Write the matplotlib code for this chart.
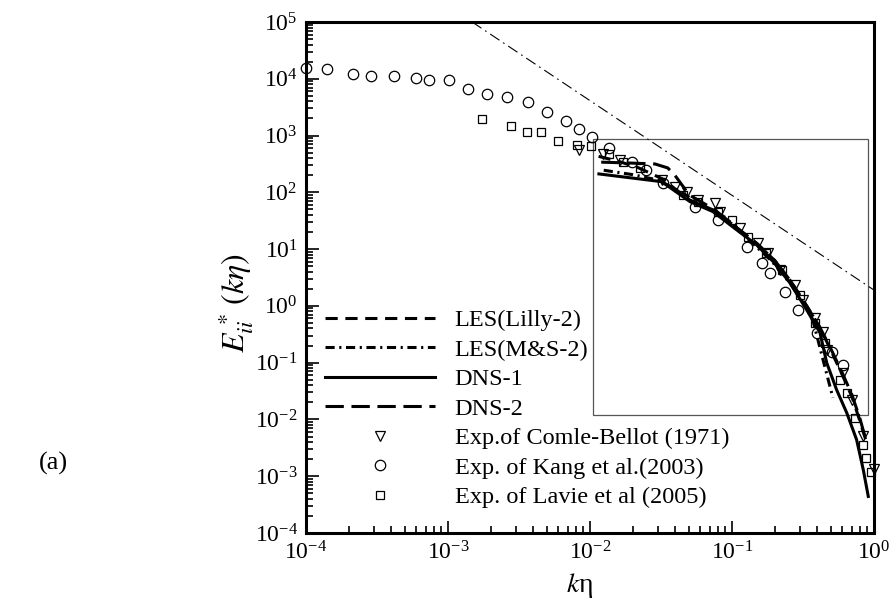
import numpy as np
import matplotlib
matplotlib.use('Agg')
import matplotlib.pyplot as plt
from matplotlib.patches import Rectangle

plt.rcParams['font.family'] = ['Liberation Serif', 'DejaVu Serif']
plt.rcParams['mathtext.fontset'] = 'stix'

# Simulations
lilly_k = [0.0115, 0.016, 0.022, 0.032, 0.05, 0.075, 0.11, 0.15, 0.2, 0.26, 0.34, 0.42, 0.5, 0.6, 0.7, 0.8, 0.9]
lilly_E = [430, 350, 270, 175, 74, 48, 23, 12.5, 6.3, 2.7, 0.95, 0.4, 0.16, 0.06, 0.025, 0.009, 0.0035]

ms_k = [0.0125, 0.02, 0.03, 0.04, 0.06, 0.09, 0.13, 0.19, 0.26, 0.32, 0.371, 0.438, 0.514]
ms_E = [245, 205, 165, 115, 62, 36, 15, 6.2, 2.4, 1.1, 0.567, 0.112, 0.024]

dns1_k = [0.01156, 0.032, 0.0506, 0.0735, 0.108, 0.149, 0.195, 0.256, 0.336, 0.417, 0.465, 0.546, 0.643, 0.755, 0.841, 0.912]
dns1_E = [211, 154, 68.6, 45.7, 21.8, 11.9, 6.03, 2.54, 0.851, 0.335, 0.099, 0.0332, 0.0131, 0.00438, 0.0013, 0.00044]

dns2_k = [0.012, 0.018, 0.0287, 0.0353, 0.0395, 0.05, 0.075, 0.11, 0.15, 0.2, 0.26, 0.34, 0.42, 0.5, 0.6, 0.7, 0.8, 0.88]
dns2_E = [340, 330, 316, 269, 202, 90, 50, 23, 12.5, 6.3, 2.7, 0.95, 0.4, 0.17, 0.065, 0.027, 0.01, 0.0042]

# Experiments
cb_k = [0.00841, 0.01243, 0.01628, 0.032, 0.0397, 0.048, 0.0577, 0.0759, 0.0823, 0.1138, 0.152,
        0.179, 0.218, 0.278, 0.316, 0.385, 0.436, 0.465, 0.605, 0.697, 0.842, 1.0]
cb_E = [557, 474, 372, 165, 126, 103, 73.5, 64.3, 45.7, 23.6, 12.9,
        8.57, 4.3, 2.34, 1.28, 0.615, 0.353, 0.168, 0.066, 0.0221, 0.0051, 0.00133]

kang_k = [1.0e-4, 1.41e-4, 2.15e-4, 2.85e-4, 4.19e-4, 5.92e-4, 7.39e-4, 1.01e-3, 1.38e-3, 1.87e-3,
          2.62e-3, 3.64e-3, 4.95e-3, 6.74e-3, 8.41e-3, 1.03e-2, 1.37e-2, 1.97e-2, 2.47e-2, 3.27e-2,
          5.48e-2, 7.97e-2, 0.127, 0.162, 0.185, 0.236, 0.293, 0.394, 0.504, 0.608]
kang_E = [15700, 14900, 12100, 11200, 11200, 10200, 9530, 9400, 6530, 5400,
          4840, 3860, 2600, 1810, 1290, 933, 597, 339, 248, 146,
          56, 32.7, 11.1, 5.78, 3.77, 1.79, 0.851, 0.331, 0.157, 0.0914]

lavie_k = [1.75e-3, 2.78e-3, 3.58e-3, 4.52e-3, 5.98e-3, 8.06e-3, 1.02e-2, 1.37e-2, 1.716e-2, 2.249e-2,
           4.52e-2, 5.77e-2, 7.97e-2, 9.95e-2, 0.13, 0.175, 0.224, 0.301, 0.385, 0.452,
           0.577, 0.643, 0.734, 0.832, 0.88, 0.948]
lavie_E = [1960, 1500, 1160, 1160, 804, 684, 656, 468, 347, 269,
           90, 68.6, 45.7, 32.7, 16.6, 8.57, 4.3, 1.56, 0.5, 0.223,
           0.0498, 0.0294, 0.0107, 0.0036, 0.0021, 0.0012]

# -5/3 reference line and zoom box
ref_k = [1.48e-3, 1.0]
ref_E = [1.0e5, 1.9]
box_k = [0.0105, 0.908]
box_E = [0.012, 870]

fig = plt.figure(figsize=(8.96, 6.08), dpi=100)
ax = fig.add_axes([0.3415, 0.1234, 0.6339, 0.8404])

ax.plot(ref_k, ref_E, color='k', lw=0.8, dashes=(10, 4, 1.5, 4))
ax.add_patch(Rectangle((box_k[0], box_E[0]), box_k[1] - box_k[0], box_E[1] - box_E[0],
                       fill=False, edgecolor='#555555', lw=0.9))

lw = 2.2
ax.plot(lilly_k, lilly_E, color='k', lw=lw, ls=(0, (4, 2.5)), label='LES(Lilly-2)')
ax.plot(ms_k, ms_E, color='k', lw=lw, ls=(0, (3, 1.5, 0.7, 1.5)), label='LES(M&S-2)')
ax.plot(dns1_k, dns1_E, color='k', lw=lw, ls='-', label='DNS-1')
ax.plot(dns2_k, dns2_E, color='k', lw=lw, ls=(0, (6, 2.5)), label='DNS-2')

mk = dict(ls='none', mfc='none', mec='k', mew=0.9, clip_on=False)
ax.plot(cb_k, cb_E, marker='v', ms=7, label='Exp.of Comle-Bellot (1971)', **mk)
ax.plot(kang_k, kang_E, marker='o', ms=7.5, label='Exp. of Kang et al.(2003)', **mk)
ax.plot(lavie_k, lavie_E, marker='s', ms=6, label='Exp. of Lavie et al (2005)', **mk)

ax.set_xscale('log')
ax.set_yscale('log')
ax.set_xlim(1e-4, 1)
ax.set_ylim(1e-4, 1e5)
ax.set_yticks([10.0 ** p for p in range(-4, 6)])

for s in ax.spines.values():
    s.set_linewidth(2.2)
ax.tick_params(which='both', direction='in', top=False, right=False, labelsize=17, width=1.2)
ax.tick_params(which='major', length=9, pad=6)
ax.tick_params(which='minor', length=5)

ax.set_xlabel(r'$k$η', fontsize=20, va='center')
ax.xaxis.set_label_coords(0.482, -0.102)
ax.set_ylabel(r'$E_{ii}^{\,*}\,(k\eta)$', fontsize=23)
ax.yaxis.set_label_coords(-0.09, 0.45)

ax.legend(loc='lower left', bbox_to_anchor=(0.033, 0.048), frameon=False, fontsize=17.5,
          handlelength=4.53, handletextpad=0.82, labelspacing=0.31, borderpad=0,
          borderaxespad=0, numpoints=1)

fig.text(0.06, 1 - 463 / 608, '(a)', fontsize=19, ha='center', va='center')

fig.savefig('out.png', dpi=100)
